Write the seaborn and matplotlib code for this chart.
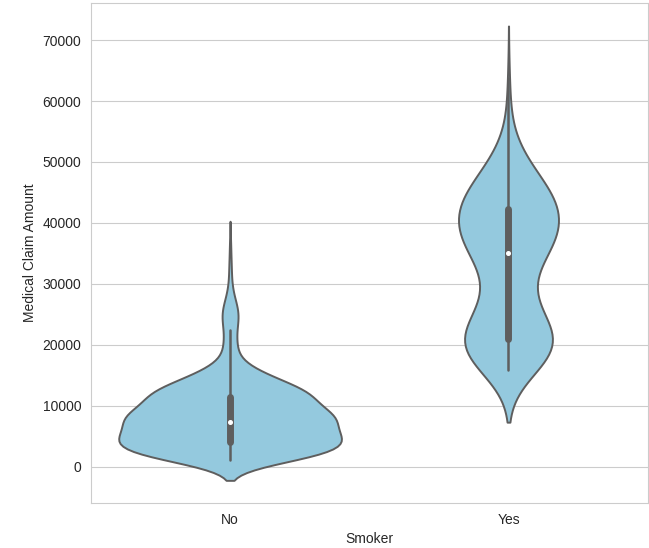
import numpy as np
import pandas as pd
import seaborn as sns
import matplotlib.pyplot as plt

# claim amounts, with how many claims sit at each amount
no_claims = [1100, 2000, 3000, 4000, 5000, 6000, 7300, 8000, 9000, 10000,
             11400, 12000, 13000, 14000, 15000, 16000, 17000, 18000, 19000,
             20000, 21000, 22400, 23500, 24500, 25500, 26500, 27500, 29000,
             31000, 33000, 35000, 36900]
no_counts = [60, 80, 85, 86, 85, 82, 78, 77, 74, 70,
             64, 57, 49, 40, 29, 17, 8, 5, 5,
             5, 6, 5, 6, 7, 7, 5, 4, 3,
             2, 2, 1, 1]

yes_claims = [15800, 17000, 18500, 20000, 21000, 23000, 24500, 26000, 27500,
              29000, 30500, 32000, 33500, 35000, 36500, 38000, 39500, 41500,
              43000, 44000, 45500, 47000, 48500, 50000, 52000, 54000, 57000,
              60000, 63800]
yes_counts = [9, 12, 16, 20, 18, 14, 11, 8, 6,
              5, 5, 6, 9, 12, 15, 18, 19, 18,
              15, 14, 12, 10, 8, 6, 4, 2, 1,
              1, 1]

smoker_labels = ['No', 'Yes']

df = pd.DataFrame({
    'smoker': ['No'] * sum(no_counts) + ['Yes'] * sum(yes_counts),
    'claim': np.concatenate([np.repeat(no_claims, no_counts),
                             np.repeat(yes_claims, yes_counts)]),
})

sns.set_style('whitegrid')
plt.rcParams['font.family'] = ['Liberation Sans', 'DejaVu Sans']

fig, ax = plt.subplots(figsize=(6.49, 5.48), dpi=100)
sns.violinplot(data=df, x='smoker', y='claim', order=smoker_labels,
               color='skyblue', linecolor='0.37', linewidth=1.4,
               bw_adjust=1.2,
               inner_kws=dict(box_width=5, whis_width=1.8,
                              marker='o', markersize=2.6),
               ax=ax)
ax.set_xlabel('Smoker', fontsize=10)
ax.set_ylabel('Medical Claim Amount', fontsize=10)
ax.tick_params(labelsize=10)

fig.subplots_adjust(left=0.14, right=0.998, top=0.994, bottom=0.082)
plt.savefig('out.png')
